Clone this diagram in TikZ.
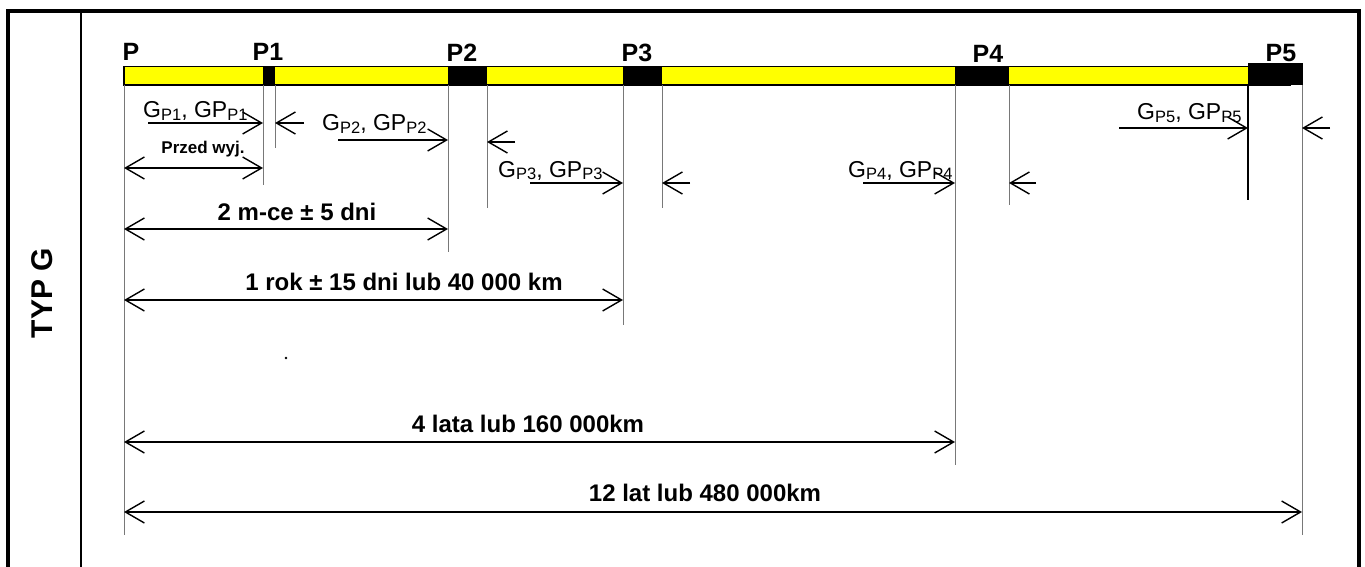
\documentclass[tikz,border=0pt]{standalone}
\usepackage{fontspec}
\setmainfont{Liberation Sans}
\usetikzlibrary{arrows.meta}
\definecolor{baryellow}{RGB}{255,255,0}
\definecolor{extgray}{RGB}{120,120,120}

\newcommand{\psub}[1]{\raisebox{-0.12em}{\fontsize{16.5}{16.5}\selectfont P#1}}
\newcommand{\gplabel}[1]{G\psub{#1}, GP\psub{#1}}

\begin{document}
\begin{tikzpicture}[x=1pt,y=-1pt,
    ext/.style={draw=extgray,line width=0.9pt},
    plab/.style={font=\fontsize{25}{25}\selectfont\bfseries,anchor=base,inner sep=0pt},
    dlab/.style={font=\fontsize{24}{24}\selectfont\bfseries,inner sep=0pt},
    glab/.style={font=\fontsize{23}{23}\selectfont,anchor=base west,inner sep=0pt},
    dim/.style={line width=1.4pt,<->},
    gin/.style={line width=1.4pt,->},
    >={Straight Barb[length=19pt,width=22pt,line width=1.4pt]}
]
\useasboundingbox (0,0) rectangle (1365,567);

% frame
\draw[line width=4pt] (8,567) -- (8,11.5) -- (1359,11.5) -- (1359,567);
\draw[line width=2pt] (81,11.5) -- (81,567);
\node[font=\fontsize{30}{30}\selectfont\bfseries,rotate=90] (typ) at (42,293) {TYP G};

% bar
\draw[line width=1.5pt,fill=baryellow] (124,66.5) rectangle (1290,85);
\fill (263,66.5) rectangle (275,85);
\fill (448,66.5) rectangle (487,85);
\fill (623,66.5) rectangle (662,85);
\fill (955,66.5) rectangle (1009,85);
\fill (1248,63) rectangle (1303,85);

% point labels
\node[plab] (lp0) at (131,61) {P};
\node[plab] (lp1) at (268,61) {P1};
\node[plab] (lp2) at (462,62) {P2};
\node[plab] (lp3) at (637,62) {P3};
\node[plab] (lp4) at (988,63) {P4};
\node[plab] (lp5) at (1281,62) {P5};

% extension lines
\foreach \n/\x/\y in {p0/124/535, p1l/263/185, p1r/275/148, p2l/448/252, p2r/487/208,
    p3l/623/325, p3r/662/208, p4l/955/465, p4r/1009/205, p5r/1302/535}
  {\coordinate (\n) at (\x,85);
   \draw[ext] (\n) -- (\x,\y);}
\coordinate (p5l) at (1248,85);
\draw[line width=1.5pt] (p5l) -- (1248,200);

% service arrows
\coordinate (g1) at (148,123);
\coordinate (g2) at (338,140);
\coordinate (g3) at (530,183);
\coordinate (g4) at (863,183);
\coordinate (g5) at (1119,128);
\draw[gin] (g1) -- (p1l |- g1);
\draw[gin] (g2) -- (p2l |- g2);
\draw[gin] (g3) -- (p3l |- g3);
\draw[gin] (g4) -- (p4l |- g4);
\draw[gin] (g5) -- (p5l |- g5);
\node[glab] (t1) at (143,118) {\gplabel{1}};
\node[glab] (t2) at (322,131) {\gplabel{2}};
\node[glab] (t3) at (498,177) {\gplabel{3}};
\node[glab] (t4) at (848,177) {\gplabel{4}};
\node[glab] (t5) at (1137,120) {\gplabel{5}};

% return arrows
\coordinate (r1) at (304,123);
\coordinate (r2) at (515,142);
\coordinate (r3) at (690,183);
\coordinate (r4) at (1036,183);
\coordinate (r5) at (1330,128);
\draw[gin] (r1) -- (p1r |- r1);
\draw[gin] (r2) -- (p2r |- r2);
\draw[gin] (r3) -- (p3r |- r3);
\draw[gin] (r4) -- (p4r |- r4);
\draw[gin] (r5) -- (p5r |- r5);

% intervals
\draw[dim] (p0 |- 0,168) -- (p1l |- 0,168);
\node[dlab,font=\fontsize{17}{17}\selectfont\bfseries] (d1) at (203,149) {Przed wyj.};
\draw[dim] (p0 |- 0,229) -- (p2l |- 0,229);
\node[dlab] (d2) at (297,212) {2 m-ce ± 5 dni};
\draw[dim] (p0 |- 0,300) -- (p3l |- 0,300);
\node[dlab] (d3) at (404,282) {1 rok ± 15 dni lub 40 000 km};
\fill (286,358) circle (1.4pt);
\draw[dim] (p0 |- 0,442) -- (p4l |- 0,442);
\node[dlab] (d4) at (528,424) {4 lata lub 160 000km};
\draw[dim] (p0 |- 0,512) -- (p5r |- 0,512);
\node[dlab] (d5) at (705,493) {12 lat lub 480 000km};
\end{tikzpicture}
\end{document}
